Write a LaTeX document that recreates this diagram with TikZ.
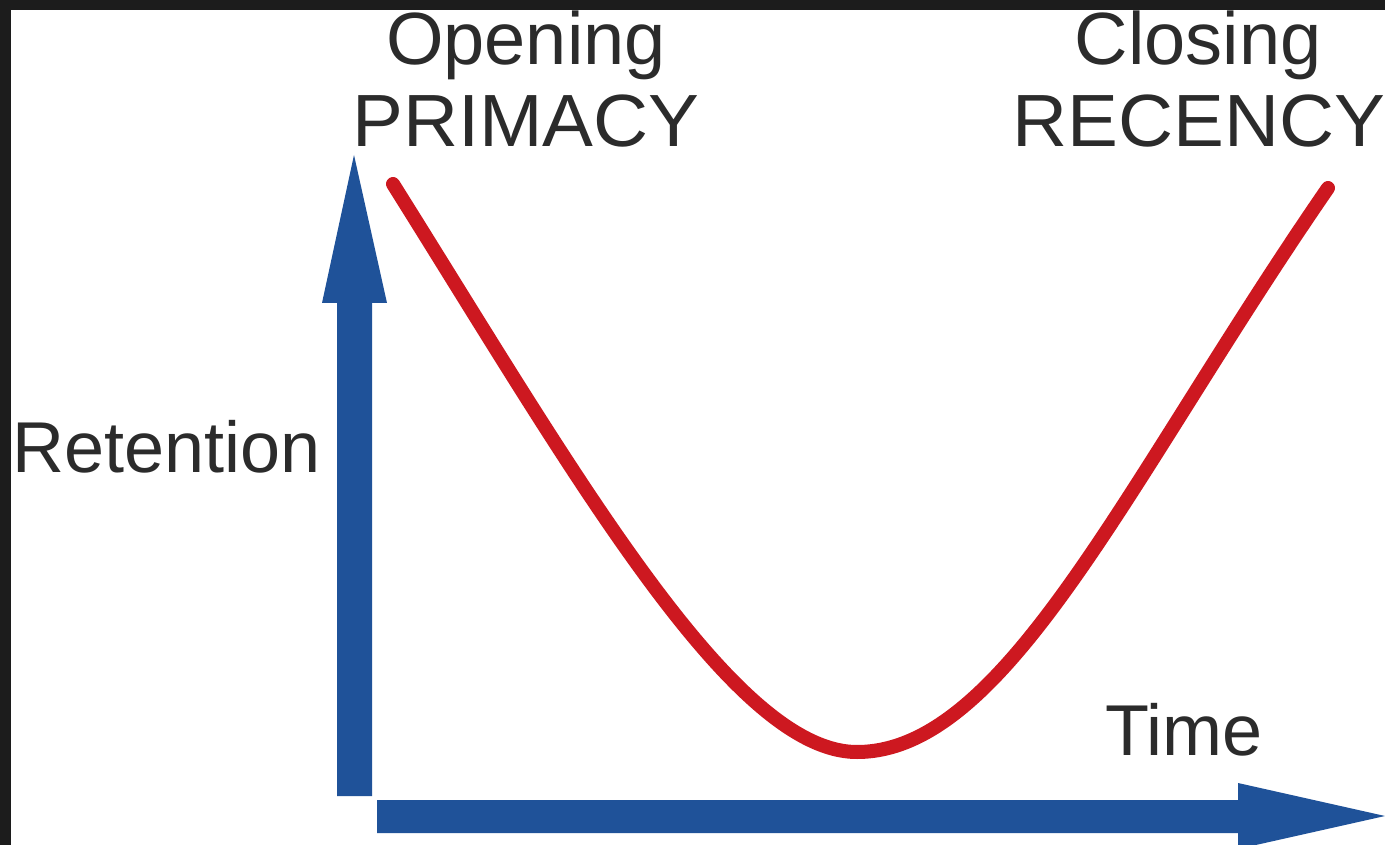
\documentclass[tikz,border=0pt]{standalone}
\usepackage{fontspec}
\setmainfont{Liberation Sans}
\definecolor{axisblue}{HTML}{1F5299}
\definecolor{curvered}{HTML}{CD1820}
\definecolor{textgray}{HTML}{2B2B2B}
\definecolor{frame}{HTML}{1C1C1C}
\begin{document}
\begin{tikzpicture}[x=1pt,y=-1pt,
  lbl/.style={inner sep=0pt,text=textgray,font=\fontsize{74}{82}\selectfont},
  axlbl/.style={inner sep=0pt,text=textgray,font=\fontsize{72}{80}\selectfont},
  axisarrow/.style={fill=axisblue,draw=none},
  curve/.style={draw=curvered,line width=14pt,line cap=round,line join=round}]
\useasboundingbox (0,0) rectangle (1385,845);
\fill[frame] (0,0) rectangle (1385,845);
\fill[white] (11,10) rectangle (1385,845);
% axes
\fill[axisarrow] (337,796) -- (337,303) -- (322,303) -- (354,155) -- (387,303) -- (372,303) -- (372,796) -- cycle;
\fill[axisarrow] (377,800) -- (1238,800) -- (1238,783) -- (1385,816) -- (1238,849) -- (1238,833) -- (377,833) -- cycle;
% curve
\coordinate (cstart) at (393,184);
\coordinate (cmin) at (857,752);
\coordinate (cend) at (1328,188);
\draw[curve] (cstart) .. controls (573,471) and (732,752) .. (cmin)
  .. controls (1007,752) and (1128,478) .. (cend);
% labels
\node[lbl,anchor=base] (open) at (526,65) {Opening};
\node[lbl,anchor=base,xscale=1.03] (prim) at (526,147) {PRIMACY};
\node[lbl,anchor=base] (close) at (1198,65) {Closing};
\node[lbl,anchor=base,xscale=1.03] (rec) at (1199,147) {RECENCY};
\node[axlbl,anchor=base west] (ret) at (12,472) {Retention};
\node[axlbl,anchor=base west] (time) at (1105,755) {Time};
\end{tikzpicture}
\end{document}
